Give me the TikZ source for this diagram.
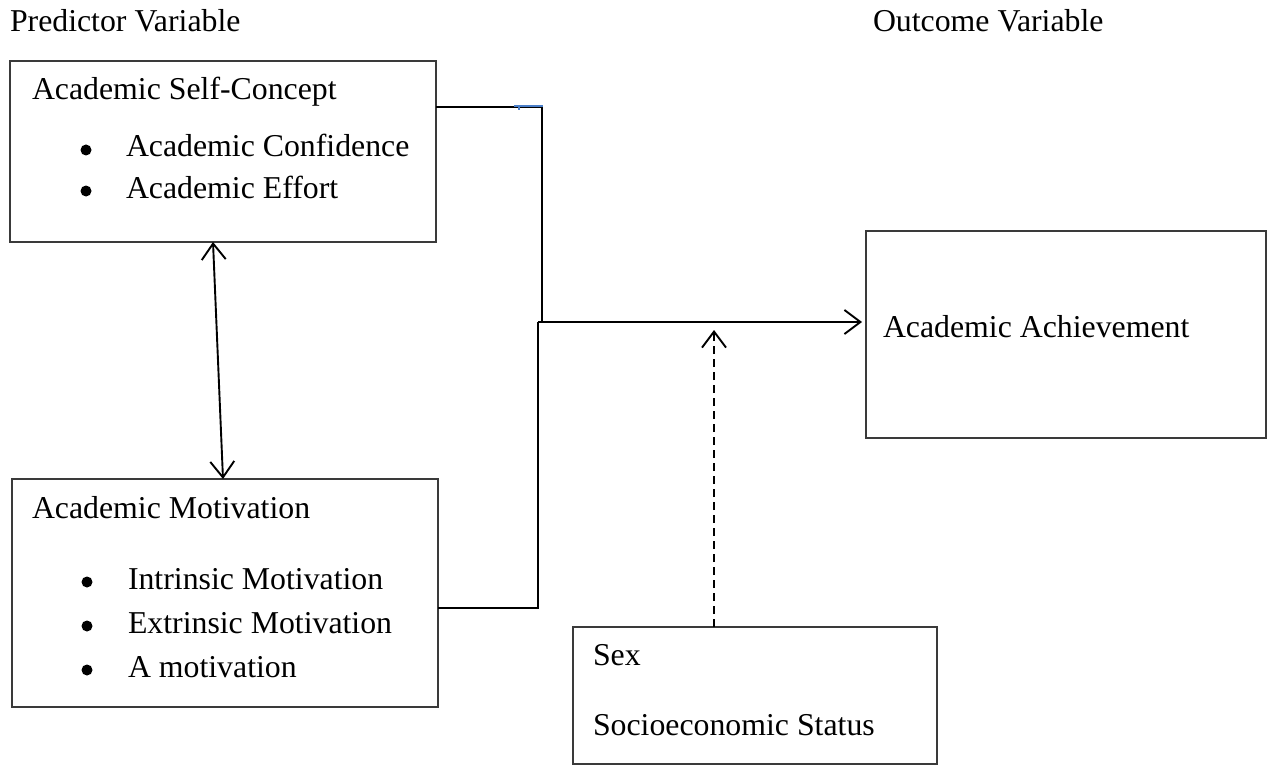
\documentclass[tikz,border=0pt]{standalone}
\usepackage{fontspec}
\setmainfont{Liberation Serif}
\usetikzlibrary{arrows.meta,calc}
\definecolor{boxgray}{HTML}{3A3A3A}
\definecolor{markblue}{HTML}{4A7EC8}
\tikzset{
  box/.style={draw=boxgray, line width=1.8pt, inner sep=0pt, outer sep=0pt, anchor=north west},
  txt/.style={inner sep=0pt, outer sep=0pt, anchor=base west, font=\fontsize{31.8}{36}\selectfont},
  bul/.style={circle, fill=black, inner sep=0pt, minimum size=11pt},
  conn/.style={line width=1.9pt, black},
  tip/.style={-{Straight Barb[length=16pt,width=24pt,line width=1.9pt]}},
  dtip/.style={{Straight Barb[length=16pt,width=24pt,line width=1.9pt]}-{Straight Barb[length=16pt,width=24pt,line width=1.9pt]}},
}
\begin{document}
\begin{tikzpicture}[x=1pt,y=-1pt]
\useasboundingbox (0,0) rectangle (1272,765);
% headings
\node[txt] (hp) at (10,32) {Predictor Variable};
\node[txt] (ho) at (873,32) {Outcome Variable};
% box 1
\node[box, minimum width=426pt, minimum height=181pt] (b1) at (10,61) {};
\node[txt] (t1) at (32,100) {Academic Self-Concept};
\node[bul] (u11) at (86,150) {};
\node[txt] (t11) at (126,157) {Academic Confidence};
\node[bul] (u12) at (86,191) {};
\node[txt] (t12) at (126,198) {Academic Effort};
% box 2
\node[box, minimum width=426pt, minimum height=228pt] (b2) at (12,479) {};
\node[txt] (t2) at (32,518) {Academic Motivation};
\node[bul] (u21) at (87,582) {};
\node[txt] (t21) at (128,589) {Intrinsic Motivation};
\node[bul] (u22) at (87,626) {};
\node[txt] (t22) at (128,633) {Extrinsic Motivation};
\node[bul] (u23) at (87,670) {};
\node[txt] (t23) at (128,677) {A motivation};
% box 3
\node[box, minimum width=364pt, minimum height=137pt] (b3) at (573,627) {};
\node[txt] (t3a) at (593,665) {Sex};
\node[txt] (t3b) at (593,735) {Socioeconomic Status};
% box 4
\node[box, minimum width=400pt, minimum height=207pt] (b4) at (866,231) {};
\node[txt] (t4) at (883,337) {Academic Achievement};
% connector coordinates
\coordinate (c1) at (542,107);
\coordinate (ja) at (542,322);
\coordinate (jb) at (538,322);
\coordinate (c2) at (538,608);
\coordinate (dt) at (714,330);
\coordinate (d1) at (213,242);
\coordinate (d2) at (223,479);
% connectors
\draw[conn] (b1.east |- c1) -- (c1) -- (ja);
\draw[conn] (b2.east |- c2) -- (c2) -- (jb);
\draw[conn, tip, shorten >=4pt] (jb) -- (b4.west |- jb);
\draw[conn, tip, dash pattern=on 8pt off 5pt] (b3.north -| dt) -- (dt);
\draw[conn, dtip] (d1) -- (d2);
% small blue mark
\draw[markblue, line width=1.8pt] (514,106) -- (543,106);
\draw[markblue, line width=1.6pt] (519,106) -- (519,110);
\end{tikzpicture}
\end{document}
